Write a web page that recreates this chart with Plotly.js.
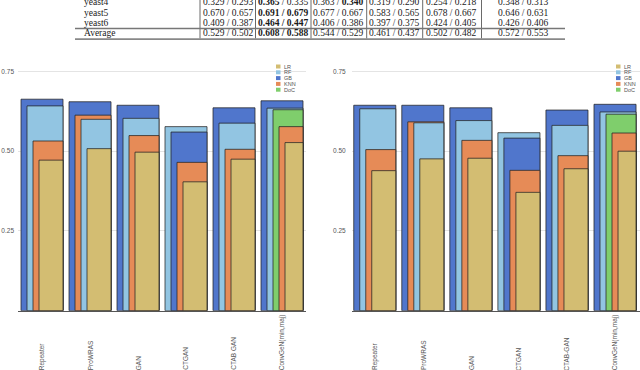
<!DOCTYPE html>
<html>
<head>
<meta charset="utf-8">
<script src="https://cdn.plot.ly/plotly-3.0.1.min.js"></script>
<style>
  html, body { margin: 0; padding: 0; background: #fff; }
  #chart { width: 640px; height: 370px; }
</style>
</head>
<body>
<div id="chart"></div>
<script>
// categories (x axis)
const categoriesLeft = ['Repeater', 'ProWRAS', 'GAN', 'CTGAN', 'CTAB GAN', 'ConvGeN(min,maj)'];
const categoriesRight = ['Repeater', 'ProWRAS', 'GAN', 'CTGAN', 'CTAB-GAN', 'ConvGeN(min,maj)'];

// left chart values
const lrLeft = [0.472, 0.508, 0.497, 0.404, 0.475, 0.527];
const rfLeft = [0.642, 0.600, 0.603, 0.577, 0.588, 0.635];
const gbLeft = [0.663, 0.655, 0.644, 0.560, 0.636, 0.658];
const knnLeft = [0.532, 0.613, 0.549, 0.465, 0.506, 0.577];
const docLeft = [null, null, null, null, null, 0.630];

// right chart values
const lrRight = [0.439, 0.476, 0.478, 0.371, 0.445, 0.500];
const rfRight = [0.633, 0.589, 0.596, 0.558, 0.581, 0.623];
const gbRight = [0.644, 0.644, 0.636, 0.541, 0.629, 0.647];
const knnRight = [0.505, 0.592, 0.534, 0.440, 0.486, 0.557];
const docRight = [null, null, null, null, null, 0.616];

const modelNames = ['LR', 'RF', 'GB', 'KNN', 'DoC'];
const modelColors = ['#d3bd72', '#92c5e2', '#5076cc', '#e68b57', '#7fce6c'];

const yTickVals = [0.25, 0.5, 0.75];
const yTickText = ['0.25', '0.50', '0.75'];

// table at the top (first row is cut off by the picture)
const tableRowNames = ['yeast4', 'yeast5', 'yeast6', 'Average'];
const tableCells = [
    ['0.329 / 0.293', '<b>0.365</b> / 0.335', '0.363 / <b>0.340</b>', '0.319 / 0.290', '0.254 / 0.218', '0.348 / 0.313'],
    ['0.670 / 0.657', '<b>0.691 / 0.679</b>', '0.677 / 0.667', '0.583 / 0.565', '0.678 / 0.667', '0.646 / 0.631'],
    ['0.409 / 0.387', '<b>0.464 / 0.447</b>', '0.406 / 0.386', '0.397 / 0.375', '0.424 / 0.405', '0.426 / 0.406'],
    ['0.529 / 0.502', '<b>0.608 / 0.588</b>', '0.544 / 0.529', '0.461 / 0.437', '0.502 / 0.482', '0.572 / 0.553'],
];

const W = 640, H = 370;
const px = x => x / W;
const py = y => 1 - y / H;

const GROUP_W = 0.875;
const STEP = 0.125;

// bars in a group are drawn tallest first, each next one starting a step further right
function rankTraces(seriesVals, xa, ya) {
    const n = seriesVals[0].length;
    const ranked = [];
    for (let i = 0; i < n; i++) {
        const items = [];
        seriesVals.forEach((vals, m) => {
            if (vals[i] != null) items.push({ m: m, v: vals[i] });
        });
        items.sort((a, b) => b.v - a.v);
        ranked.push(items);
    }
    const traces = [];
    for (let r = 0; r < modelNames.length; r++) {
        const xs = [], ys = [], cs = [];
        for (let i = 0; i < n; i++) {
            const it = ranked[i][r];
            xs.push(i);
            ys.push(it ? it.v : null);
            cs.push(it ? modelColors[it.m] : '#fff');
        }
        traces.push({
            type: 'bar',
            x: xs,
            y: ys,
            xaxis: xa,
            yaxis: ya,
            width: GROUP_W - r * STEP,
            offset: -GROUP_W / 2 + r * STEP,
            marker: { color: cs, line: { color: 'rgba(35,35,35,0.75)', width: 1 } },
            showlegend: false,
            hoverinfo: 'y',
        });
    }
    return traces;
}

const data = [].concat(
    rankTraces([lrLeft, rfLeft, gbLeft, knnLeft, docLeft], 'x', 'y'),
    rankTraces([lrRight, rfRight, gbRight, knnRight, docRight], 'x2', 'y2')
);

const annotations = [];
const shapes = [];

// x category labels, rotated, starting from the bottom edge
function addCatLabels(cats, xref) {
    cats.forEach((c, i) => {
        annotations.push({
            xref: xref, yref: 'paper', x: i, y: -0.006,
            xanchor: 'center', yanchor: 'bottom',
            text: c, textangle: -90, showarrow: false,
            font: { family: 'Liberation Sans, Arial', size: 6.5, color: '#555' },
        });
    });
}
addCatLabels(categoriesLeft, 'x');
addCatLabels(categoriesRight, 'x2');

// small legends
function addLegend(x0, y0) {
    modelNames.forEach((name, i) => {
        const yc = y0 + i * 5.8;
        shapes.push({
            type: 'rect', xref: 'paper', yref: 'paper',
            x0: px(x0), x1: px(x0 + 4.5), y0: py(yc + 2), y1: py(yc - 2),
            fillcolor: modelColors[i], line: { width: 0 },
        });
        annotations.push({
            xref: 'paper', yref: 'paper', x: px(x0 + 6), y: py(yc),
            xanchor: 'left', yanchor: 'middle', text: name, showarrow: false,
            font: { family: 'Liberation Sans, Arial', size: 5.5, color: '#555' },
        });
    });
}
addLegend(276, 66.5);
addLegend(616, 66.5);

// table
const rowY = [2, 13, 22.8, 33.5];
const colX = [227.5, 282.5, 338, 394, 451, 523];
const tableFont = { family: 'Liberation Serif, Times New Roman', size: 9.5, color: '#1a1a1a' };
tableRowNames.forEach((name, r) => {
    annotations.push({
        xref: 'paper', yref: 'paper', x: px(82), y: py(rowY[r]),
        xanchor: 'left', yanchor: 'middle', text: name, showarrow: false, font: tableFont,
    });
    tableCells[r].forEach((cell, c) => {
        annotations.push({
            xref: 'paper', yref: 'paper', x: px(colX[c]), y: py(rowY[r]),
            xanchor: 'center', yanchor: 'middle', text: cell, showarrow: false, font: tableFont,
        });
    });
});
[200, 255.5, 311, 366.7, 422.7, 481.5].forEach(x => {
    shapes.push({
        type: 'line', xref: 'paper', yref: 'paper',
        x0: px(x), x1: px(x), y0: py(0), y1: py(38.5),
        line: { color: '#444', width: 0.8 },
    });
});
shapes.push({
    type: 'line', xref: 'paper', yref: 'paper',
    x0: px(75), x1: px(565), y0: py(28.5), y1: py(28.5),
    line: { color: '#777', width: 1.3 },
});
shapes.push({
    type: 'line', xref: 'paper', yref: 'paper',
    x0: px(75), x1: px(565), y0: py(39.2), y1: py(39.2),
    line: { color: '#888', width: 1.8 },
});

const xBase = {
    showticklabels: false, showgrid: false, zeroline: false, ticks: '',
    showline: true, linecolor: '#555', linewidth: 1, fixedrange: true,
};
const yBase = {
    range: [0, 0.8], domain: [py(310.7), py(55.5)],
    tickvals: yTickVals, ticktext: yTickText,
    showgrid: true, gridcolor: '#e4e4e4', gridwidth: 1,
    zeroline: false, showline: false, ticks: '',
    tickfont: { family: 'Liberation Sans, Arial', size: 6.5, color: '#555' },
    fixedrange: true,
};

const layout = {
    width: W,
    height: H,
    margin: { l: 0, r: 0, t: 0, b: 0 },
    paper_bgcolor: '#fff',
    plot_bgcolor: '#fff',
    barmode: 'overlay',
    showlegend: false,
    xaxis: Object.assign({}, xBase, { domain: [px(18), px(306)], range: [-0.5, 5.5], anchor: 'y' }),
    yaxis: Object.assign({}, yBase, { anchor: 'x', ticklabelstandoff: 3 }),
    xaxis2: Object.assign({}, xBase, { domain: [px(351.7), 1], range: [-0.48, 5.52], anchor: 'y2' }),
    yaxis2: Object.assign({}, yBase, { anchor: 'x2', ticklabelstandoff: 5 }),
    annotations: annotations,
    shapes: shapes,
};

Plotly.newPlot('chart', data, layout, { displayModeBar: false, staticPlot: true });
</script>
</body>
</html>
